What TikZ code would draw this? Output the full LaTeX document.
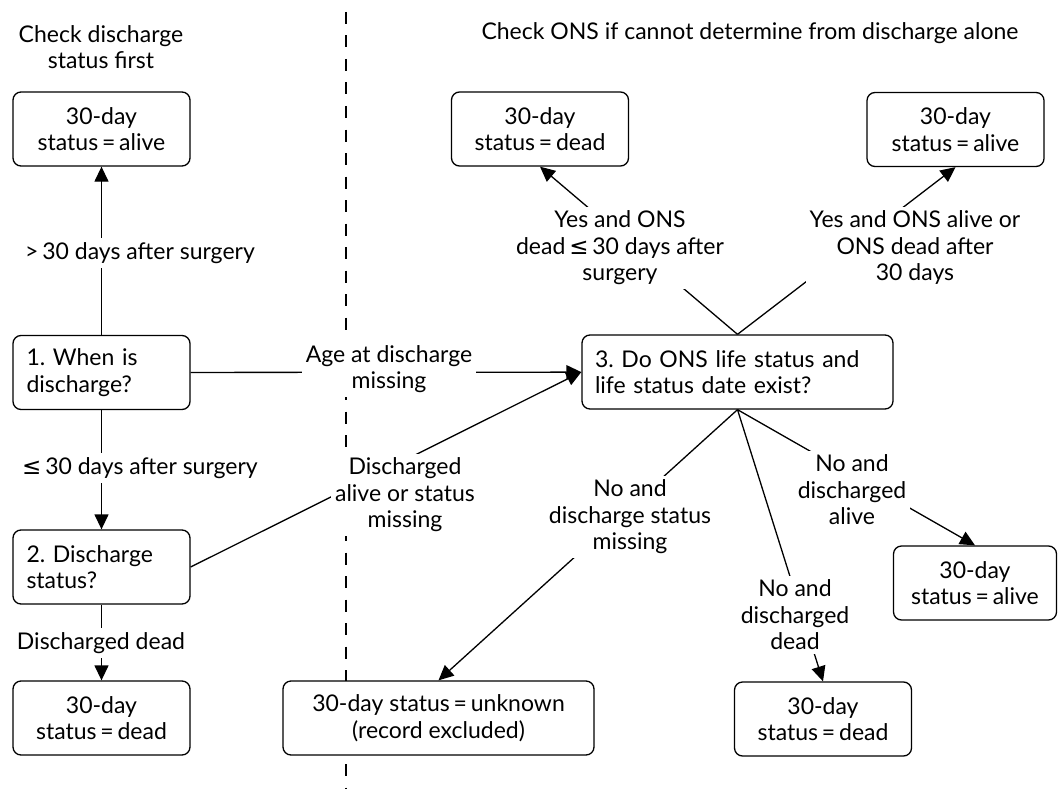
\documentclass[tikz,border=0pt]{standalone}
\usepackage{fontspec}
\setmainfont{Lato}
\newfontfamily\symfont{DejaVu Sans}
\usetikzlibrary{arrows.meta}
\newcommand{\lesym}{{\symfont ≤}}
\frenchspacing
\tikzset{
>={Triangle[length=15pt,width=14pt]}, % filled arrow heads
box/.style={draw, fill=white, rounded corners=8pt, line width=1.3pt, minimum width=177pt, minimum height=74pt, align=center},
qbox/.style={box, align=left, text width=150pt},
widebox/.style={box, minimum width=311pt},
lbl/.style={fill=white, align=center, inner sep=4pt},
}

\begin{document}
\begin{tikzpicture}[x=1pt, y=-1pt, line width=1.3pt,
    every node/.style={font=\fontsize{23}{26.5}\selectfont}]
        \useasboundingbox (0,0) rectangle (1059,789);
        % divider
        \draw[dash pattern=on 12pt off 11.5pt] (346,12) -- (346,789);
        \node[align=center] (hleft) at (101,47) {Check discharge\\status first};
        \node (hright) at (750,33) {Check ONS if cannot determine from discharge alone};

        \node[box] (aliveL) at (101.5,129) {30-day\\status\,=\,alive};
        \node[qbox] (when) at (101.5,372.5) {1. When is\\discharge?};
        \node[qbox] (disch) at (101.5,567) {2. Discharge\\status?};
        \node[box] (deadL) at (101.5,718) {30-day\\status\,=\,dead};

        \node[box, align=left, text width=285pt, minimum width=311pt] (ons) at (737.5,372) {3. Do ONS life status and\\life status date exist?};
        \node[box] (deadT) at (540,129) {30-day\\status\,=\,dead};
        \node[box] (aliveT) at (955.5,129.5) {30-day\\status\,=\,alive};
        \node[widebox] (unknown) at (438.5,718) {30-day status\,=\,unknown\\(record excluded)};
        \node[box] (deadR) at (823,719) {30-day\\status\,=\,dead};
        \node[box, minimum width=163pt] (aliveR) at (975,583) {30-day\\status\,=\,alive};

        \draw[->] (when) -- (aliveL);
        \draw[->] (when) -- (disch);
        \draw[->] (disch) -- (deadL);
        \draw[->] (when) -- (ons);
        \draw[->] (disch.east) -- (ons.west);
        \draw[->] (ons.north) -- (deadT.south);
        \draw[->] (ons.north) -- (aliveT.south);
        \draw[->] (ons.south) -- (unknown.north);
        \draw[->] (ons.south) -- (deadR.north);
        \draw[->] (ons.south) -- (aliveR.north);

        \node[lbl] (l1) at (140,253) {>\,30 days after surgery};
        \node[lbl] (l2) at (140,468) {\lesym\,30 days after surgery};
        \node[lbl] (l3) at (101,643) {Discharged dead};
        \node[lbl] (l4) at (389,369) {Age at discharge\\missing};
        \node[lbl] (l5) at (405,495) {Discharged\\alive or status\\missing};
        \node[lbl] (l6) at (620,248) {Yes and ONS\\dead\,\lesym\,30 days after\\surgery};
        \node[lbl] (l7) at (915,248) {Yes and ONS alive or\\ONS dead after\\30 days};
        \node[lbl] (l8) at (630,517) {No and\\discharge status\\missing};
        \node[lbl] (l9) at (852,490) {No and\\discharged\\alive};
        \node[lbl] (l10) at (795,615) {No and\\discharged\\dead};
    \end{tikzpicture}
\end{document}
